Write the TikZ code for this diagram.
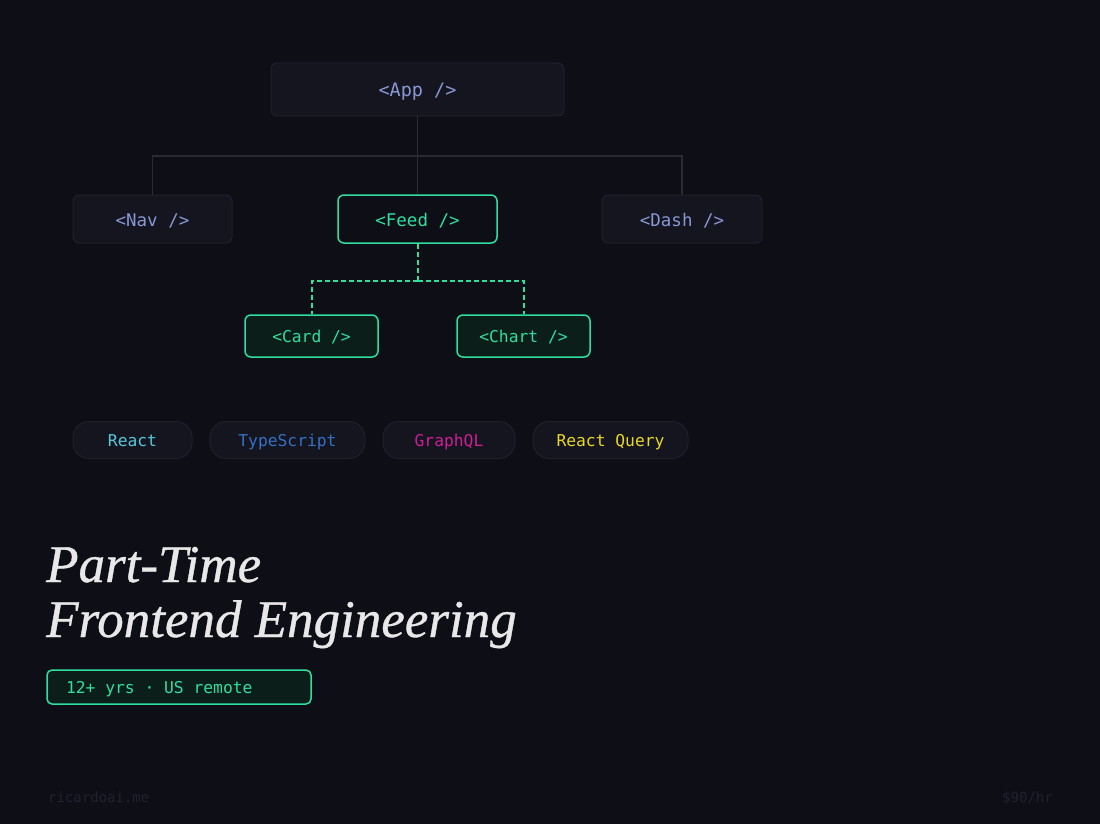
\documentclass[tikz,border=0pt]{standalone}
\usepackage{fontspec}
\setmonofont{DejaVu Sans Mono}
\newfontfamily\titlefont[ItalicFeatures={FakeBold=0.7}]{Liberation Serif}
\usetikzlibrary{positioning,calc}

\definecolor{bg}{RGB}{14,14,22}
\definecolor{boxfill}{RGB}{21,21,31}
\definecolor{boxline}{RGB}{32,32,44}
\definecolor{wire}{RGB}{42,42,54}
\definecolor{lav}{RGB}{136,152,212}
\definecolor{mint}{RGB}{48,222,160}
\definecolor{mintfill}{RGB}{12,30,26}
\definecolor{reactc}{RGB}{86,200,220}
\definecolor{tsc}{RGB}{52,112,196}
\definecolor{gqlc}{RGB}{206,30,150}
\definecolor{rqc}{RGB}{232,216,40}
\definecolor{ghost}{RGB}{34,34,46}
\definecolor{titlec}{RGB}{232,232,232}

\begin{document}
\begin{tikzpicture}[x=1pt,y=-1pt,
  comp/.style={draw=boxline,fill=boxfill,rounded corners=6pt,line width=1pt,
    text=lav,font=\ttfamily\fontsize{17.5}{20}\selectfont,minimum height=48pt,
    text height=14.5pt,text depth=0pt},
  live/.style={draw=mint,fill=bg,rounded corners=6pt,line width=1.5pt,
    text=mint,font=\ttfamily\fontsize{17.5}{20}\selectfont,minimum height=48pt,
    text height=14.5pt,text depth=0pt},
  leaf/.style={live,fill=mintfill,font=\ttfamily\fontsize{16.3}{20}\selectfont,minimum height=42pt,
    text height=13.5pt},
  pill/.style={draw=boxline,fill=boxfill,rounded corners=16pt,line width=1pt,
    font=\ttfamily\fontsize{16.3}{20}\selectfont,minimum height=37pt,
    text height=13.5pt,text depth=0pt},
  wireline/.style={draw=wire,line width=1.2pt},
  dashline/.style={draw=mint,line width=2pt,dash pattern=on 5pt off 3pt}]
\fill[bg] (0,0) rectangle (1100,824);
\useasboundingbox (0,0) rectangle (1100,824);

% component tree
\node[comp,minimum width=293pt,minimum height=53pt,font=\ttfamily\fontsize{18.5}{20}\selectfont,text height=15pt] (app) at (417.5,89.5) {<App />};
\node[comp,minimum width=159pt] (nav) at (152.5,219) {<Nav />};
\node[live,minimum width=159pt] (feed) at (417.5,219) {<Feed />};
\node[comp,minimum width=160pt] (dash) at (682,219) {<Dash />};
\node[leaf,minimum width=133pt] (card) at (311.5,336) {<Card />};
\node[leaf,minimum width=133pt] (chart) at (523.5,336) {<Chart />};

\coordinate (split) at (417.5,156);
\coordinate (fork) at (417.5,281);
\draw[wireline] (app) -- (split);
\draw[wireline] (split) -| (nav.north);
\draw[wireline] (split) -| (dash.north);
\draw[wireline] (split) -- (feed.north);
\draw[dashline] (feed) -- (fork);
\draw[dashline] (fork) -| (card.north);
\draw[dashline] (fork) -| (chart.north);

% stack pills
\node[pill,minimum width=119pt,text=reactc] (react) at (132.5,440) {React};
\node[pill,minimum width=155pt,text=tsc] (ts) at (287.5,440) {TypeScript};
\node[pill,minimum width=132pt,text=gqlc] (gql) at (449,440) {GraphQL};
\node[pill,minimum width=155pt,text=rqc] (rq) at (610.5,440) {React Query};

% title
\node[anchor=base west,inner sep=0pt,text=titlec,font=\titlefont\itshape\fontsize{53}{60}\selectfont] (line1) at (46,582) {Part-Time};
\node[anchor=base west,inner sep=0pt,text=titlec,font=\titlefont\itshape\fontsize{53}{60}\selectfont] (line2) at (46,637) {Frontend Engineering};

\node[draw=mint,fill=mintfill,rounded corners=5pt,line width=1.5pt,text=mint,
  font=\ttfamily\fontsize{16.3}{20}\selectfont,minimum height=34pt,
  text height=13.5pt,text depth=0pt,
  inner xsep=19pt] (badge) at (179,687) {\makebox[226pt][l]{12+ yrs\ ·\ US remote}};

% footer
\node[anchor=base west,inner sep=0pt,text=ghost,font=\ttfamily\fontsize{14}{16}\selectfont] (site) at (48,802) {ricardoai.me};
\node[anchor=base east,inner sep=0pt,text=ghost,font=\ttfamily\fontsize{14}{16}\selectfont] (rate) at (1053,802) {\$90/hr};
\end{tikzpicture}
\end{document}
